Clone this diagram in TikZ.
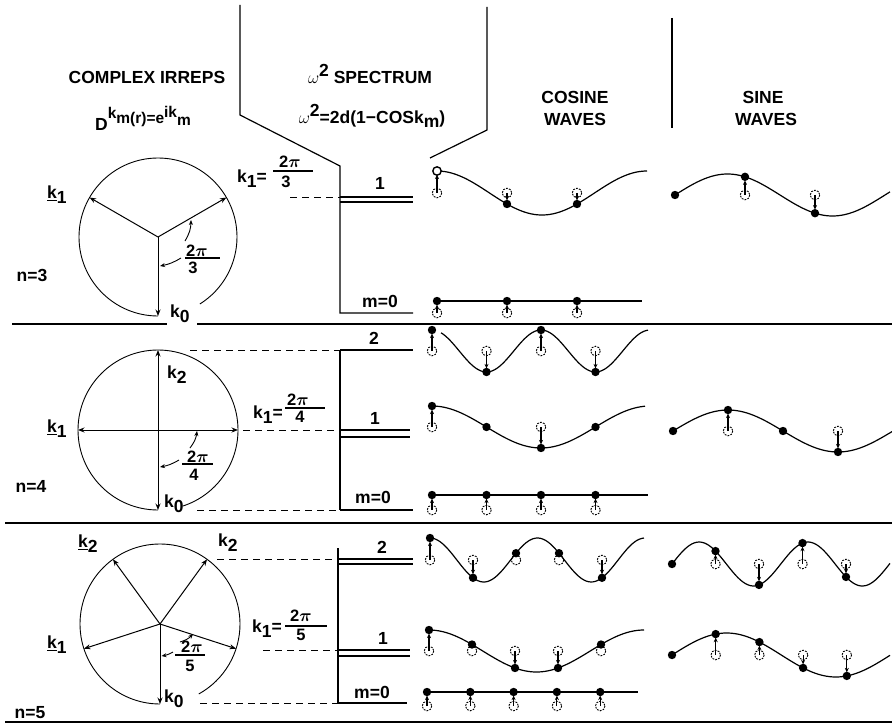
\documentclass[tikz,border=0pt]{standalone}
\usepackage{amsmath}
\usepackage{fontspec}
\setmainfont{Liberation Sans}
\usetikzlibrary{arrows.meta,calc}
\newcommand\kk[1]{k\raisebox{-5.5pt}{#1}}
\newcommand\kn[1]{\underline{k}\raisebox{-5.5pt}{#1}}
\newcommand\smf[1]{{\fontsize{15.5}{15.5}\selectfont #1}}
\newcommand\bpi{$\boldsymbol{\pi}$}
% #1 name #2 func #3 x0 #4 spacing #5 n #6 m #7 eq-y #8 amplitude #9 domain
\newcommand\wvrow[9]{%
  \pgfmathsetmacro\wfac{360*#6/(#5*#4)}%
  \draw[wave] plot[domain=#9, samples=90, smooth] (\x, {#7-#8*#2((\x-#3)*\wfac)});
  \pgfmathtruncatemacro\wlast{#5-1}%
  \foreach \j in {0,...,\wlast}{%
    \pgfmathsetmacro\sx{#3+\j*#4}%
    \pgfmathsetmacro\sy{#7-#8*#2(360*#6*\j/#5)}%
    \pgfmathsetmacro\dd{abs(\sy-#7)}%
    \coordinate (#1e\j) at (\sx,#7);
    \coordinate (#1d\j) at (\sx,\sy);
    \ifdim\dd pt>6pt \draw[eqc] (#1e\j) circle[radius=4.8]; \fi
    \ifdim\dd pt>9pt \draw[disp] (#1e\j) -- (#1d\j); \fi
    \fill (#1d\j) circle[radius=4.2];
  }%
}
\tikzset{
  wave/.style={line width=1.2pt},
  eqc/.style={dash pattern=on 1.8pt off 1.2pt, line width=0.9pt},
  disp/.style={-{Stealth[length=4.5pt,width=4pt]}, line width=1.1pt, shorten >=3.6pt},
  spoke/.style={line width=1pt, -{Stealth[length=6.5pt,width=5pt]}},
  circ/.style={line width=0.9pt},
  sep/.style={line width=1.7pt},
  lvl/.style={line width=1.2pt},
  dsh/.style={line width=1pt, dash pattern=on 7pt off 5pt},
  ang/.style={line width=0.9pt, -{Stealth[length=5pt,width=4pt]}},
  lab/.style={font=\fontsize{17.5}{20}\selectfont\bfseries, inner sep=0pt},
  frc/.style={font=\fontsize{16.5}{18}\selectfont\bfseries, inner sep=0pt},
  bar/.style={line width=1.1pt}
}
\begin{document}
\begin{tikzpicture}[x=1pt,y=-1pt]
\useasboundingbox (0,0) rectangle (892,725);
\fill[white] (0,0) rectangle (892,725);

% ---------- header ----------
\node[lab, anchor=base] (h1) at (147,84) {COMPLEX IRREPS};
\node[lab, anchor=base] (h2) at (143,130) {D\raisebox{12pt}{\smf{k}}\raisebox{6pt}{\smf{m(r)=e}}\raisebox{13pt}{\smf{ik}}\raisebox{5pt}{\smf{m}}};
\node[lab, anchor=base] (h3) at (370,84) {$\omega$\raisebox{7pt}{2} SPECTRUM};
\node[lab, anchor=base] (h4) at (372,123) {$\omega$\raisebox{7pt}{2}=2d(1−COSk\raisebox{-5pt}{m})};
\node[lab, anchor=base] (h5) at (575,103) {COSINE};
\node[lab, anchor=base] (h6) at (575,125) {WAVES};
\node[lab, anchor=base] (h7) at (763,103) {SINE};
\node[lab, anchor=base] (h8) at (766,125) {WAVES};

\coordinate (a1) at (240,5);
\coordinate (a2) at (240,115);
\coordinate (a3) at (340,166);
\coordinate (a4) at (340,313);
\coordinate (a5) at (413,313);
\draw[lvl] (a1) -- (a2) -- (a3) -- (a4) -- (a5);
\coordinate (b1) at (487,7);
\coordinate (b2) at (487,130);
\coordinate (b3) at (430,158);
\draw[lvl] (b1) -- (b2) -- (b3);
\coordinate (b4) at (672,18);
\coordinate (b5) at (672,128);
\draw[lvl] (b4) -- (b5);

% separators
\draw[sep] (12,324) -- (167,324);
\draw[sep] (197,324) -- (892,324);
\draw[sep] (5,523) -- (892,523);
\draw[sep] (5,722) -- (892,722);

% ---------- n = 3 ----------
\coordinate (c3) at (158,237);
\draw[circ] (c3) ++(90:79) arc[start angle=90, end angle=418, radius=79];
\path (c3) ++(90:79) coordinate (c3k0);
\path (c3) ++(-30:79) coordinate (c3k1);
\path (c3) ++(210:79) coordinate (c3km1);
\draw[spoke] (c3) -- (c3k0);
\draw[spoke] (c3) -- (c3k1);
\draw[spoke] (c3) -- (c3km1);
\coordinate (g31) at (185,241); \coordinate (g32) at (191,220);
\draw[ang] (g31) to[bend right=15] (g32);
\coordinate (g33) at (181,258); \coordinate (g34) at (160,266);
\draw[ang] (g33) to[bend left=10] (g34);
\node[frc] (f3n) at (197,251) {2\bpi};
\draw[bar] (185,258) -- (220,258);
\node[frc] (f3d) at (193,268) {3};
\node[lab, anchor=base west] (k3m1) at (47,198) {\kn{1}};
\node[lab, anchor=base west] (k30) at (170,317) {\kk{0}};
\node[lab] (n3) at (32,275) {n=3};
\node[lab, anchor=base west] (k31) at (237,182) {\kk{1}=};
\node[frc] (q3n) at (290,162) {2\bpi};
\draw[bar] (273,171) -- (313,171);
\node[frc] (q3d) at (286,182) {3};
\coordinate (d31) at (290,197); \coordinate (d32) at (340,197);
\draw[dsh] (d31) -- (d32);
\draw[lvl] (340,197) -- (413,197);
\draw[lvl] (340,202) -- (413,202);
\node[lab] (l31) at (380,183) {1};
\node[lab] (l30) at (380,301) {m=0};

\wvrow{a}{cos}{437}{70}{3}{1}{193}{22}{437:647}
\draw[line width=1.4pt, fill=white] (ad0) circle[radius=4.2];
\wvrow{b}{sin}{675}{70}{3}{1}{195}{21}{675:890}
\wvrow{c}{cos}{437}{70}{3}{0}{313}{12}{437:642}

% ---------- n = 4 ----------
\coordinate (c4) at (158,430);
\draw[circ] (c4) ++(90:80) arc[start angle=90, end angle=432, radius=80];
\path (c4) ++(90:80) coordinate (c4k0);
\path (c4) ++(0:80) coordinate (c4k1);
\path (c4) ++(-90:80) coordinate (c4k2);
\path (c4) ++(180:80) coordinate (c4km1);
\draw[spoke] (c4) -- (c4k0);
\draw[spoke] (c4) -- (c4k1);
\draw[spoke] (c4) -- (c4k2);
\draw[spoke] (c4) -- (c4km1);
\coordinate (g41) at (190,448); \coordinate (g42) at (197,431);
\draw[ang] (g41) to[bend right=15] (g42);
\coordinate (g43) at (179,460); \coordinate (g44) at (160,467);
\draw[ang] (g43) to[bend left=10] (g44);
\node[frc] (f4n) at (198,457) {2\bpi};
\draw[bar] (182,464) -- (213,464);
\node[frc] (f4d) at (194,475) {4};
\node[lab, anchor=base west] (k42) at (167,378) {\kk{2}};
\node[lab, anchor=base west] (k4m1) at (47,432) {\kn{1}};
\node[lab, anchor=base west] (k40) at (164,507) {\kk{0}};
\node[lab] (n4) at (31,486) {n=4};
\node[lab, anchor=base west] (k41) at (253,418) {\kk{1}=};
\node[frc] (q4n) at (298,400) {2\bpi};
\draw[bar] (285,408) -- (325,408);
\node[frc] (q4d) at (300,417) {4};
\coordinate (d41) at (190,350); \coordinate (d42) at (340,350);
\coordinate (d43) at (243,430); \coordinate (d44) at (340,430);
\coordinate (d45) at (197,510); \coordinate (d46) at (340,510);
\draw[dsh] (d41) -- (d42);
\draw[dsh] (d43) -- (d44);
\draw[dsh] (d45) -- (d46);
\draw[lvl] (340,350) -- (340,510);
\draw[lvl] (340,350) -- (413,350);
\draw[lvl] (340,430) -- (410,430);
\draw[lvl] (340,437) -- (410,437);
\draw[lvl] (340,510) -- (413,510);
\node[lab] (l42) at (374,338) {2};
\node[lab] (l41) at (375,418) {1};
\node[lab] (l40) at (373,497) {m=0};

\wvrow{d}{cos}{432}{54.5}{4}{2}{351}{21}{441:648}
\wvrow{e}{cos}{432}{54.5}{4}{1}{427}{21}{432:645}
\wvrow{f}{sin}{673}{55}{4}{1}{431}{21}{673:892}
\wvrow{g}{cos}{432}{54.5}{4}{0}{510}{15}{432:648}

% ---------- n = 5 ----------
\coordinate (c5) at (160,624);
\draw[circ] (c5) ++(90:80) arc[start angle=90, end angle=421, radius=80];
\path (c5) ++(90:80) coordinate (c5k0);
\path (c5) ++(18:80) coordinate (c5k1);
\path (c5) ++(-54:80) coordinate (c5k2);
\path (c5) ++(234:80) coordinate (c5km2);
\path (c5) ++(162:80) coordinate (c5km1);
\draw[spoke] (c5) -- (c5k0);
\draw[spoke] (c5) -- (c5k1);
\draw[spoke] (c5) -- (c5k2);
\draw[spoke] (c5) -- (c5km2);
\draw[spoke] (c5) -- (c5km1);
\coordinate (g51) at (180,642); \coordinate (g52) at (193,634);
\draw[ang] (g51) to[bend right=15] (g52);
\coordinate (g53) at (173,652); \coordinate (g54) at (161.5,656);
\draw[ang] (g53) to[bend left=10] (g54);
\node[frc] (f5n) at (192,647) {2\bpi};
\draw[bar] (175,655) -- (205,655);
\node[frc] (f5d) at (190,666) {5};
\node[lab, anchor=base west] (k5m2) at (78,547) {\kn{2}};
\node[lab, anchor=base west] (k52) at (218,546) {\kk{2}};
\node[lab, anchor=base west] (k5m1) at (47,648) {\kn{1}};
\node[lab, anchor=base west] (k50) at (164,702) {\kk{0}};
\node[lab] (n5) at (30,713) {n=5};
\node[lab, anchor=base west] (k51) at (252,632) {\kk{1}=};
\node[frc] (q5n) at (301,616) {2\bpi};
\draw[bar] (285,626) -- (327,626);
\node[frc] (q5d) at (301,635) {5};
\coordinate (d51) at (217,559); \coordinate (d52) at (338,559);
\coordinate (d53) at (263,650); \coordinate (d54) at (338,650);
\coordinate (d55) at (200,703); \coordinate (d56) at (338,703);
\draw[dsh] (d51) -- (d52);
\draw[dsh] (d53) -- (d54);
\draw[dsh] (d55) -- (d56);
\draw[lvl] (338,548) -- (338,703);
\draw[lvl] (338,559) -- (413,559);
\draw[lvl] (338,564) -- (413,564);
\draw[lvl] (338,650) -- (410,650);
\draw[lvl] (338,656) -- (410,656);
\draw[lvl] (338,703) -- (407,703);
\node[lab] (l52) at (382,547) {2};
\node[lab] (l51) at (383,638) {1};
\node[lab] (l50) at (372,692) {m=0};

\wvrow{h}{cos}{430}{43}{5}{2}{560}{22}{430:644}
\wvrow{i}{sin}{672}{43.5}{5}{2}{564}{22}{672:890}
\wvrow{j}{cos}{429}{43}{5}{1}{651}{21}{429:644}
\wvrow{k}{sin}{672}{43.7}{5}{1}{655}{22}{672:890}
\wvrow{l}{cos}{427}{43.3}{5}{0}{706}{14}{427:638}
\end{tikzpicture}
\end{document}
